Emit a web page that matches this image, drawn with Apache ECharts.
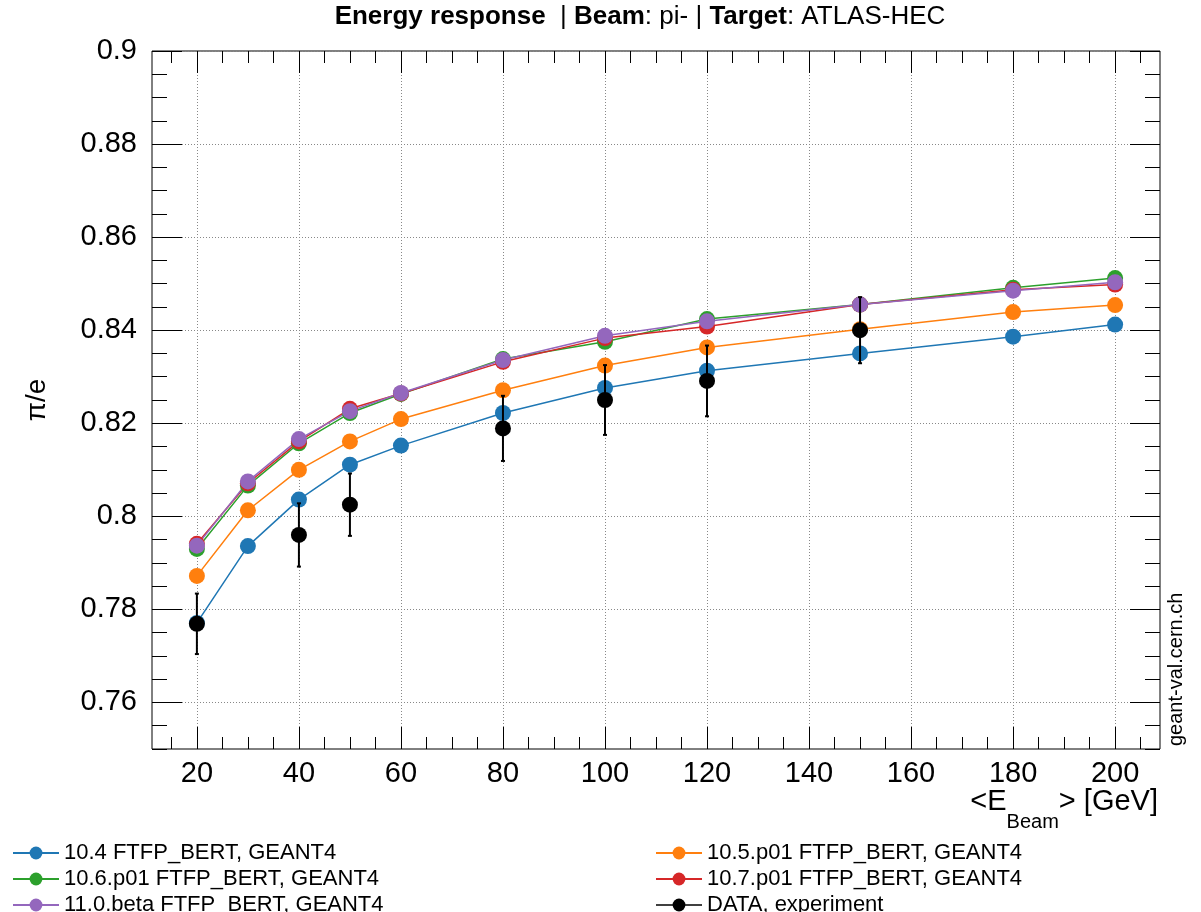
<!DOCTYPE html>
<html>
<head>
<meta charset="utf-8">
<script src="https://cdn.jsdelivr.net/npm/echarts@6/dist/echarts.min.js"></script>
<style>
html, body { margin: 0; padding: 0; background: #fff; }
#main { width: 1201px; height: 912px; }
</style>
</head>
<body>
<div id="main"></div>
<script>
// beam energies (GeV) of the simulated points
var energies = [20, 30, 40, 50, 60, 80, 100, 120, 150, 180, 200];
var g4_104 = [0.7771, 0.7936, 0.8036, 0.8111, 0.8152, 0.8222, 0.8276, 0.8313, 0.8350, 0.8386, 0.8412];
var g4_105 = [0.7872, 0.8013, 0.8100, 0.8161, 0.8209, 0.8271, 0.8324, 0.8363, 0.8402, 0.8439, 0.8454];
var g4_106 = [0.7930, 0.8066, 0.8157, 0.8222, 0.8263, 0.8338, 0.8375, 0.8424, 0.8455, 0.8491, 0.8512];
var g4_107 = [0.7941, 0.8071, 0.8161, 0.8231, 0.8264, 0.8332, 0.8383, 0.8408, 0.8455, 0.8487, 0.8498];
var g4_110 = [0.7937, 0.8075, 0.8166, 0.8226, 0.8265, 0.8336, 0.8388, 0.8419, 0.8455, 0.8485, 0.8503];
// measured data
var dataE = [20, 40, 50, 80, 100, 120, 150];
var dataVal = [0.7769, 0.7960, 0.8025, 0.8189, 0.8250, 0.8291, 0.8400];
var dataErr = [0.0065, 0.0068, 0.0067, 0.0070, 0.0075, 0.0076, 0.0071];
// axis ticks
var xTicks = [20, 40, 60, 80, 100, 120, 140, 160, 180, 200];
var yTicks = [0.76, 0.78, 0.8, 0.82, 0.84, 0.86, 0.88, 0.9];
var xMin = 11.2, xMax = 208.8, yMin = 0.75, yMax = 0.9;

var xMinor = [], yMinor = [];
for (var i = 15; i <= 205; i += 5) xMinor.push(i);
for (var j = 0; j <= 30; j++) yMinor.push(+(0.75 + j * 0.005).toFixed(3));

function pairs(xs, ys) {
    return xs.map(function (x, k) { return [x, ys[k]]; });
}

function xAx(pos, ticks, len, labels) {
    return {
        type: 'value', position: pos, min: xMin, max: xMax,
        axisLine: { show: false },
        axisTick: { show: true, inside: true, length: len, customValues: ticks,
                    lineStyle: { color: '#000', width: 1 } },
        axisLabel: { show: labels, customValues: ticks, margin: 10,
                     fontSize: 29, color: '#000', fontFamily: 'Liberation Sans' },
        splitLine: { show: labels, lineStyle: { color: '#888', type: [1, 2], width: 1 } }
    };
}
function yAx(pos, ticks, len, labels) {
    return {
        type: 'value', position: pos, min: yMin, max: yMax,
        axisLine: { show: false },
        axisTick: { show: true, inside: true, length: len, customValues: ticks,
                    lineStyle: { color: '#000', width: 1 } },
        axisLabel: { show: labels, customValues: ticks, margin: 15,
                     fontSize: 29, color: '#000', fontFamily: 'Liberation Sans' },
        splitLine: { show: labels, lineStyle: { color: '#888', type: [1, 2], width: 1 } }
    };
}

function mc(name, ys, color) {
    return {
        name: name, type: 'line', data: pairs(energies, ys),
        symbol: 'circle', symbolSize: 16, showAllSymbol: true,
        color: color, lineStyle: { width: 1.5, color: color },
        itemStyle: { color: color }, z: 2
    };
}

var legendText = { fontSize: 22, color: '#000', fontFamily: 'Liberation Sans' };

var chart = echarts.init(document.getElementById('main'));
chart.setOption({
    animation: false,
    backgroundColor: '#fff',
    textStyle: { fontFamily: 'Liberation Sans' },
    title: {
        left: 640, top: 4, textAlign: 'center', padding: 0,
        text: '{b|Energy response}  | {b|Beam}: pi- | {b|Target}: ATLAS-HEC',
        textStyle: {
            fontSize: 26, fontWeight: 'normal', color: '#000', fontFamily: 'Liberation Sans',
            rich: { b: { fontSize: 26, fontWeight: 'bold', color: '#000', fontFamily: 'Liberation Sans' } }
        }
    },
    grid: {
        left: 152, right: 41, top: 51, bottom: 163,
        show: true, borderColor: '#000', borderWidth: 1, backgroundColor: 'transparent'
    },
    xAxis: [
        xAx('bottom', xTicks, 22, true),
        xAx('bottom', xMinor, 12, false),
        xAx('top', xTicks, 22, false),
        xAx('top', xMinor, 12, false)
    ],
    yAxis: [
        yAx('left', yTicks, 30, true),
        yAx('left', yMinor, 15, false),
        yAx('right', yTicks, 30, false),
        yAx('right', yMinor, 15, false)
    ],
    legend: [
        {
            left: 12, top: 842, height: 110, width: 500, orient: 'vertical', itemGap: 4, padding: 0,
            itemWidth: 46, itemHeight: 16, selectedMode: false, textStyle: legendText,
            data: ['10.4 FTFP_BERT, GEANT4', '10.6.p01 FTFP_BERT, GEANT4', '11.0.beta FTFP_BERT, GEANT4']
        },
        {
            left: 655, top: 842, height: 110, width: 500, orient: 'vertical', itemGap: 4, padding: 0,
            itemWidth: 46, itemHeight: 16, selectedMode: false, textStyle: legendText,
            data: ['10.5.p01 FTFP_BERT, GEANT4', '10.7.p01 FTFP_BERT, GEANT4',
                   { name: 'DATA, experiment', lineStyle: { opacity: 1, color: '#000', width: 1.5 } }]
        }
    ],
    graphic: [
        {
            type: 'text', x: 37, y: 400, rotation: Math.PI / 2,
            style: { text: 'π/e', fontSize: 28, fill: '#000', fontFamily: 'Liberation Sans',
                     align: 'center', verticalAlign: 'middle' }
        },
        {
            type: 'text', x: 1176, y: 746, rotation: Math.PI / 2,
            style: { text: 'geant-val.cern.ch', fontSize: 20, fill: '#000', fontFamily: 'Liberation Sans',
                     align: 'left', verticalAlign: 'middle' }
        },
        {
            type: 'text', right: 43, top: 787,
            style: {
                text: '{m|<E}{s|Beam}{m|> [GeV]}',
                fill: '#000', fontFamily: 'Liberation Sans',
                rich: {
                    m: { fontSize: 29, lineHeight: 30, verticalAlign: 'top', fill: '#000', fontFamily: 'Liberation Sans' },
                    s: { fontSize: 20, lineHeight: 20, verticalAlign: 'top', padding: [25, 0, 0, 0], fill: '#000', fontFamily: 'Liberation Sans' }
                }
            }
        }
    ],
    series: [
        mc('10.4 FTFP_BERT, GEANT4', g4_104, '#1f77b4'),
        mc('10.5.p01 FTFP_BERT, GEANT4', g4_105, '#ff7f0e'),
        mc('10.6.p01 FTFP_BERT, GEANT4', g4_106, '#2ca02c'),
        mc('10.7.p01 FTFP_BERT, GEANT4', g4_107, '#d62728'),
        mc('11.0.beta FTFP_BERT, GEANT4', g4_110, '#9467bd'),
        {
            type: 'custom', z: 3,
            data: dataE.map(function (e, k) { return [e, dataVal[k], dataErr[k]]; }),
            encode: { x: 0, y: 1 },
            renderItem: function (params, api) {
                var x = api.value(0), y = api.value(1), err = api.value(2);
                var top = api.coord([x, y + err]);
                var bot = api.coord([x, y - err]);
                var st = { stroke: '#000', lineWidth: 2 };
                return {
                    type: 'group',
                    children: [
                        { type: 'line', shape: { x1: top[0], y1: top[1], x2: bot[0], y2: bot[1] }, style: st },
                        { type: 'line', shape: { x1: top[0] - 2, y1: top[1], x2: top[0] + 2, y2: top[1] }, style: st },
                        { type: 'line', shape: { x1: bot[0] - 2, y1: bot[1], x2: bot[0] + 2, y2: bot[1] }, style: st }
                    ]
                };
            }
        },
        {
            name: 'DATA, experiment', type: 'line', data: pairs(dataE, dataVal),
            symbol: 'circle', symbolSize: 16, showAllSymbol: true,
            color: '#000', itemStyle: { color: '#000' },
            lineStyle: { opacity: 0 }, z: 4
        }
    ]
});
</script>
</body>
</html>
